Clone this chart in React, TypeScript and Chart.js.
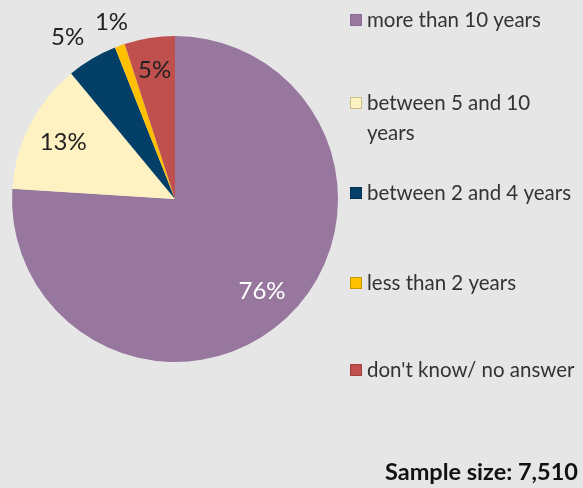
import React, { useEffect, useRef } from "react";
import { Chart, registerables } from "chart.js";

Chart.register(...registerables);

const categories: string[][] = [
  ["more than 10 years"],
  ["between 5 and 10", "years"],
  ["between 2 and 4 years"],
  ["less than 2 years"],
  ["don't know/ no answer"],
];
const values: number[] = [76, 13, 5, 1, 5];
const percentLabels: string[] = ["76%", "13%", "5%", "1%", "5%"];
const colors: string[] = ["#98779E", "#FFF2C2", "#033F66", "#FFC000", "#C0504D"];
const legendBorders: string[] = ["#8a6a90", "#c9bd8a", "#023050", "#c99800", "#a0403d"];
const labelColors: string[] = ["#ffffff", "#222222", "#222222", "#222222", "#222222"];
const labelRadius: number[] = [0.78, 0.77, 1.19, 1.15, 0.8];
const labelAngleShift: number[] = [0, 0, -3, 0, 0];
const sampleText = "Sample size: 7,510";

const FONT = "Lato, 'Open Sans', sans-serif";
const BG = "#E6E6E6";

export default function App() {
  const ref = useRef<HTMLCanvasElement | null>(null);
  useEffect(() => {
    document.body.style.margin = "0";
    const canvas = ref.current!;
    const overlay = {
      id: "overlay",
      beforeDraw(chart: any) {
        const ctx = chart.ctx;
        ctx.save();
        ctx.fillStyle = BG;
        ctx.fillRect(0, 0, chart.width, chart.height);
        ctx.restore();
      },
      afterDraw(chart: any) {
        const ctx = chart.ctx;
        ctx.save();
        const meta = chart.getDatasetMeta(0);
        meta.data.forEach((arc: any, i: number) => {
          const p = arc.getProps(["x", "y", "startAngle", "endAngle", "outerRadius"], true);
          const mid = (p.startAngle + p.endAngle) / 2 + (labelAngleShift[i] * Math.PI) / 180;
          const r = p.outerRadius * labelRadius[i];
          const x = p.x + Math.cos(mid) * r;
          const y = p.y + Math.sin(mid) * r;
          ctx.font = `24px ${FONT}`;
          ctx.fillStyle = labelColors[i];
          ctx.textAlign = "center";
          ctx.textBaseline = "middle";
          ctx.fillText(percentLabels[i], x, y);
        });
        const rowY = [20, 103, 193, 283, 370];
        categories.forEach((lines, i) => {
          const y = rowY[i];
          ctx.fillStyle = colors[i];
          ctx.fillRect(350, y - 6, 12, 12);
          ctx.strokeStyle = legendBorders[i];
          ctx.lineWidth = 1;
          ctx.strokeRect(350.5, y - 5.5, 11, 11);
          ctx.fillStyle = "#333333";
          ctx.font = `20.5px ${FONT}`;
          ctx.textAlign = "left";
          ctx.textBaseline = "middle";
          lines.forEach((ln, j) => {
            ctx.fillText(ln, 367, y + j * 30);
          });
        });
        ctx.font = `bold 23.5px ${FONT}`;
        ctx.fillStyle = "#111111";
        ctx.textAlign = "right";
        ctx.textBaseline = "middle";
        ctx.fillText(sampleText, 578, 472);
        ctx.restore();
      },
    };
    const chart = new Chart(canvas, {
      type: "pie",
      data: {
        labels: categories.map((c) => c.join(" ")),
        datasets: [
          {
            data: values,
            backgroundColor: colors,
            borderWidth: 0,
          },
        ],
      },
      options: {
        responsive: false,
        animation: false,
        devicePixelRatio: 1,
        layout: { padding: { left: 12, right: 245, top: 36, bottom: 126 } },
        plugins: {
          legend: { display: false },
          tooltip: { enabled: false },
        },
      },
      plugins: [overlay],
    });
    return () => chart.destroy();
  }, []);
  return (
    <div style={{ position: "absolute", left: 0, top: 0, width: 583, height: 488, background: BG }}>
      <canvas ref={ref} width={583} height={488} style={{ display: "block" }} />
    </div>
  );
}
